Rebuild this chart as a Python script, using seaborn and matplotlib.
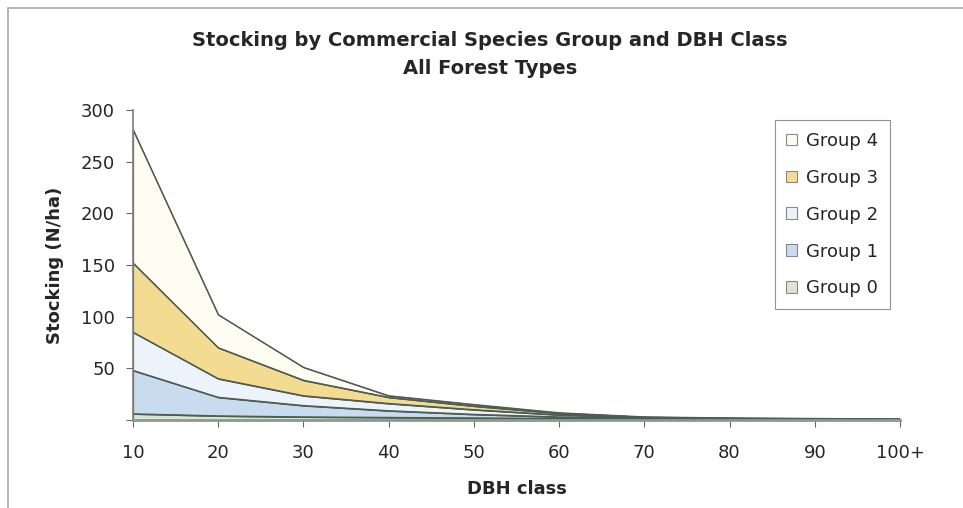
import numpy as np
import pandas as pd
import seaborn as sns
import matplotlib.pyplot as plt
from matplotlib.patches import Patch
from matplotlib.lines import Line2D

# DBH classes and stocking (N/ha) per commercial species group
dbh_classes = ["10", "20", "30", "40", "50", "60", "70", "80", "90", "100+"]
group0 = [6, 4, 3, 2.5, 2, 1.5, 1, 0.8, 0.5, 0.4]
group1 = [42, 18, 11, 6.5, 3.5, 1.5, 0.8, 0.4, 0.3, 0.2]
group2 = [37, 18, 9.5, 7, 4.5, 2, 0.6, 0.3, 0.2, 0.2]
group3 = [67, 30, 15, 6, 3.5, 1.5, 0.3, 0.2, 0.2, 0.1]
group4 = [129, 32, 12.5, 1.5, 1.5, 0.5, 0.3, 0.3, 0.3, 0.1]

group_names = ["Group 0", "Group 1", "Group 2", "Group 3", "Group 4"]
group_colors = ["#d8e6d2", "#c9dbef", "#edf3fa", "#f3dc92", "#fffdf2"]

df = pd.DataFrame({"Group 0": group0, "Group 1": group1, "Group 2": group2,
                   "Group 3": group3, "Group 4": group4}, index=dbh_classes)

sns.set_theme(style="white")
plt.rcParams['font.family'] = ['DejaVu Sans']

fig = plt.figure(figsize=(9.63, 5.08), dpi=100)
ax = fig.add_axes([133 / 963, 1 - 420 / 508, 767 / 963, 310 / 508])

x = np.arange(len(dbh_classes))
ax.stackplot(x, [df[g].values for g in group_names], colors=group_colors,
             edgecolor="#4f5c52", linewidth=0.9)

# outline of each stack boundary
cum = df[group_names].cumsum(axis=1)
for g in group_names:
    sns.lineplot(x=x, y=cum[g].values, ax=ax, color="#4f5c52", linewidth=0.9, legend=False)

ax.set_xlim(0, len(dbh_classes) - 1)
ax.set_ylim(0, 300)
ax.set_xticks(x)
ax.set_xticklabels(dbh_classes, fontsize=13)
ax.set_yticks(range(0, 301, 50))
ax.set_yticklabels([""] + [str(v) for v in range(50, 301, 50)], fontsize=13)
ax.tick_params(axis="x", direction="out", length=5, width=0.8, color="#666666",
               bottom=True, pad=12)
ax.tick_params(axis="y", direction="out", length=5, width=0.8, color="#666666",
               left=True, pad=8)
ax.set_xlabel("DBH class", fontsize=13, fontweight="bold", labelpad=13)
ax.set_ylabel("Stocking (N/ha)", fontsize=13, fontweight="bold", labelpad=12)

sns.despine(ax=ax)
ax.spines["left"].set_color("#808080")
ax.spines["bottom"].set_color("#8a9a90")
ax.spines["bottom"].set_linewidth(2)

fig.text(490 / 963, 1 - 40 / 508, "Stocking by Commercial Species Group and DBH Class",
         ha="center", va="center", fontsize=14, fontweight="bold")
fig.text(490 / 963, 1 - 68 / 508, "All Forest Types",
         ha="center", va="center", fontsize=14, fontweight="bold")

handles = [Patch(facecolor=c, edgecolor="#888888", linewidth=0.8)
           for c in group_colors][::-1]
leg = ax.legend(handles, group_names[::-1], loc="upper right",
                bbox_to_anchor=(0.987, 0.968), borderaxespad=0, fontsize=13,
                frameon=True, fancybox=False, labelspacing=1.05, borderpad=0.65,
                handlelength=0.6, handleheight=0.6, handletextpad=0.5)
leg.get_frame().set_edgecolor("#777777")
leg.get_frame().set_linewidth(0.8)

# outer frame of the chart area
fig.add_artist(Line2D([8 / 963, 8 / 963], [0, 1 - 8 / 508], transform=fig.transFigure,
                      color="#aaaaaa", linewidth=1.2))
fig.add_artist(Line2D([8 / 963, 1], [1 - 8 / 508, 1 - 8 / 508], transform=fig.transFigure,
                      color="#aaaaaa", linewidth=1.2))

fig.savefig("out.png", dpi=100)
